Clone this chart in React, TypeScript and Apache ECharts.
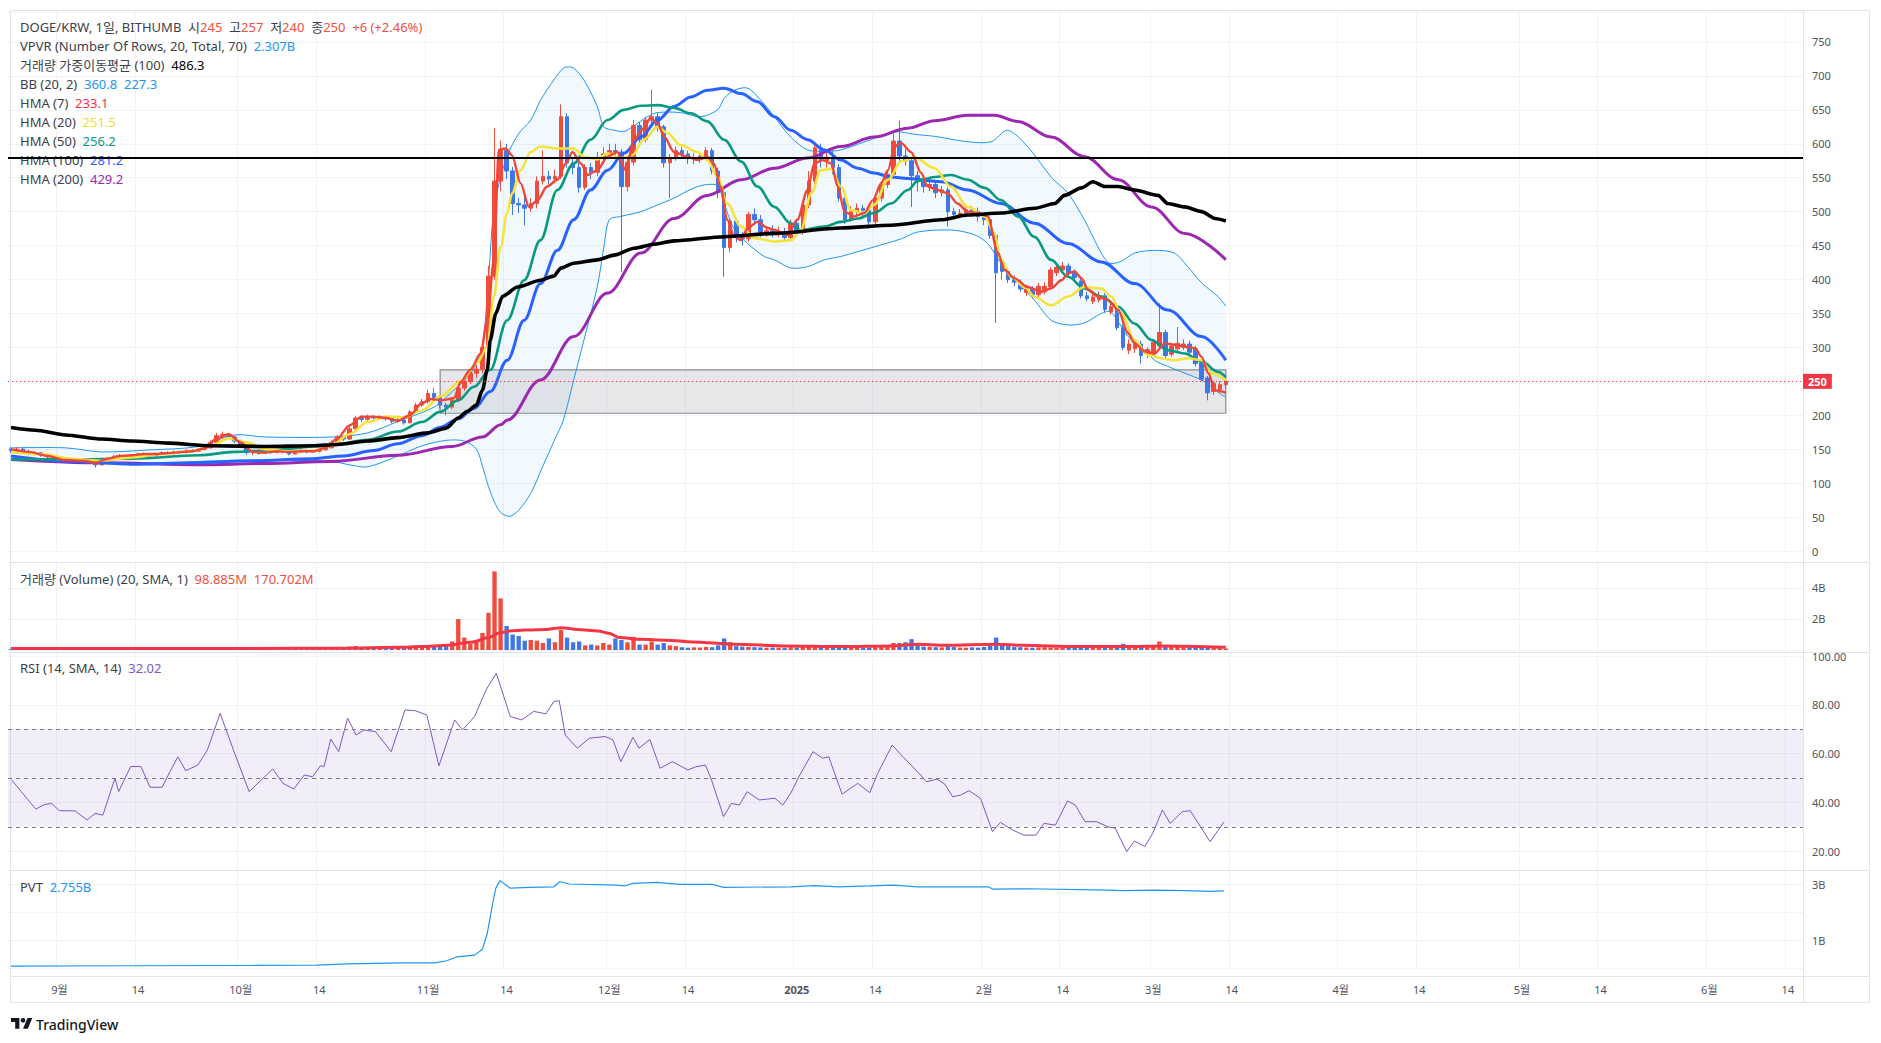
import React, { useEffect, useRef } from 'react';
import * as echarts from 'echarts';

// ---------- categories ----------
const N_DAYS = 297; // 2024-08-24 .. 2025-06-16
const START_UTC = Date.UTC(2024, 7, 24);
const DATES: string[] = Array.from({ length: N_DAYS }, (_, k) =>
  new Date(START_UTC + k * 86400000).toISOString().slice(0, 10)
);

// ---------- daily candles [open, high, low, close] (KRW) ----------
const OHLC: number[][] = [
  [150,153,145,148],[148,153,146,150],[150,152,144,146],[146,149,141,143],[143,147,141,145],
  [145,146,139,141],[141,143,137,139],[139,141,134,136],[136,138,131,134],[134,137,132,135],
  [135,136,130,132],[132,135,130,133],[133,134,129,131],[131,134,129,132],[132,133,123,127],
  [127,135,126,133],[133,138,131,136],[136,142,134,139],[139,143,137,140],[140,142,136,138],
  [138,143,137,141],[141,145,139,143],[143,145,140,142],[142,144,138,140],[140,145,139,143],
  [143,147,141,145],[145,147,142,144],[144,148,142,146],[146,148,143,145],[145,150,144,148],
  [148,150,145,147],[147,152,146,150],[150,155,148,152],[152,163,151,160],[160,174,158,170],
  [170,176,166,172],[172,174,165,168],[168,170,159,162],[162,164,153,155],[155,157,142,145],
  [145,149,141,146],[146,148,142,144],[144,149,143,147],[147,149,143,145],[145,150,144,148],
  [148,150,144,146],[146,148,141,143],[143,148,142,146],[146,150,145,148],[148,150,144,146],
  [146,149,145,147],[147,151,145,149],[149,155,148,152],[152,163,151,160],[160,171,158,168],
  [168,170,162,165],[165,184,164,180],[180,199,178,196],[196,200,190,194],[194,201,192,198],
  [198,200,193,196],[196,200,193,197],[197,199,192,195],[195,197,188,191],[191,196,189,193],
  [193,195,186,189],[189,208,188,205],[205,218,203,215],[215,224,212,220],[220,238,217,232],
  [232,240,222,226],[226,229,210,215],[215,218,200,212],[212,226,209,222],[222,246,220,240],
  [240,255,236,250],[250,268,246,262],[262,274,255,268],[268,310,262,300],[300,420,298,405],
  [405,623,400,545],[545,605,530,590],[590,600,548,560],[560,566,495,512],[512,520,498,510],
  [510,522,480,505],[505,520,500,512],[512,552,505,545],[545,590,540,552],[552,560,540,548],
  [548,562,542,552],[552,658,548,640],[640,645,565,572],[572,580,555,565],[565,572,528,536],
  [536,570,532,565],[565,572,548,558],[558,588,552,580],[580,595,570,585],[585,600,578,590],
  [590,600,580,588],[588,592,411,537],[537,578,530,573],[573,635,568,627],[627,632,600,606],
  [606,640,602,635],[635,680,625,640],[640,645,618,625],[625,628,565,572],[572,585,520,580],
  [580,596,575,590],[590,595,578,585],[585,590,570,578],[578,586,570,579],[578,588,572,582],
  [582,595,576,590],[590,594,555,560],[560,565,520,528],[528,532,404,447],[447,490,440,486],
  [486,490,455,464],[464,470,450,460],[460,500,456,496],[496,505,480,488],[488,495,462,470],
  [470,478,463,472],[472,480,462,468],[468,478,462,470],[470,476,458,462],[462,488,458,483],
  [483,490,465,470],[470,515,466,510],[510,560,505,545],[545,600,540,594],[594,600,565,575],
  [575,590,565,580],[580,590,555,565],[565,570,515,520],[520,525,482,488],[488,508,485,500],
  [500,512,495,505],[505,510,494,502],[502,506,475,485],[485,525,480,520],[520,545,515,540],
  [540,562,535,555],[555,615,550,604],[604,634,575,582],[582,592,568,575],[575,580,507,553],
  [553,560,530,545],[545,552,528,537],[537,548,530,540],[540,546,520,528],[528,538,522,532],
  [532,536,478,500],[500,506,490,496],[496,504,490,498],[498,508,492,503],[503,508,493,500],
  [500,506,485,493],[493,497,480,488],[488,492,460,465],[465,468,336,410],[424,428,400,412],
  [412,415,395,400],[400,406,390,396],[396,400,382,386],[381,392,376,386],[386,390,372,378],
  [378,395,374,390],[382,396,378,390],[389,418,385,414],[410,423,405,418],[414,426,410,420],
  [420,424,405,410],[410,415,398,403],[398,402,372,376],[376,382,368,372],[368,380,364,374],
  [370,382,366,376],[376,380,352,356],[352,366,348,360],[356,360,325,329],[329,334,296,300],
  [296,312,290,305],[298,310,292,304],[305,310,276,288],[290,300,284,297],[290,312,286,308],
  [302,365,298,322],[322,326,284,288],[290,306,286,302],[298,330,294,306],[300,312,296,305],
  [305,310,290,293],[298,302,272,276],[278,282,250,253],[255,258,222,233],[235,250,230,247],
  [238,250,234,245],[245,257,240,250],
];

// ---------- daily volume (millions) ----------
const VOLUME_M: number[] = [
  60,45,55,70,40,50,65,55,80,45, 50,40,60,70,90,75,55,45,60,50,
  55,65,45,40,70,60,50,45,55,65, 50,60,70,120,180,150,110,90,130,160,
  70,60,55,50,60,45,75,50,60,55, 65,80,90,140,200,150,220,260,180,150,
  140,130,120,160,150,140,230,260,240,300, 280,220,350,550,2000,800,400,600,1100,2400,
  5070,3330,1550,1000,900,600,650,600,450,750, 500,1300,800,500,550,300,350,300,450,350,
  750,650,500,850,350,350,550,350,450,300, 250,180,150,170,160,200,180,300,750,500,
  250,220,200,180,170,150,160,150,140,180, 160,200,250,300,220,180,200,220,170,150,
  140,160,150,180,200,230,450,450,500,700, 300,220,200,180,170,250,190,160,150,170,
  150,200,300,800,400,250,200,180,160,150, 170,180,160,150,140,160,170,150,140,130,
  150,160,170,200,400,250,250,220,180,200, 550,300,250,200,180,160,170,230,260,180,
  150,99,
];

// ---------- indicator lines: [day index, value] ----------
const VOL_SMA_B: number[][] = [
  [0,0.09],[20,0.09],[40,0.1],[55,0.12],[64,0.17],[67.8,0.22],[72.1,0.3],[76.4,0.52],[79,0.8],
  [80.7,1.08],[82.5,1.23],[85.1,1.29],[88.5,1.33],[91.1,1.44],[93.7,1.33],[97.2,1.23],[98.9,1.08],
  [100.7,0.8],[104.1,0.69],[108.5,0.63],[112.8,0.52],[119.7,0.37],[128.4,0.26],[137.1,0.22],
  [145.7,0.26],[150.1,0.37],[154.4,0.3],[163.1,0.37],[167.4,0.3],[176.1,0.22],[184.7,0.22],
  [190.8,0.26],[201,0.17],
];

const HMA7: number[][] = [
  [0,150],[3,146],[6,140],[9,134],[12,133],[14,130],[16,136],[18,140],[20,141],[22,143],[24,143],
  [27,145],[30,147],[32,151],[34,166],[36,172],[38,160],[40,146],[42,145],[44,147],[46,146],[48,147],
  [50,147],[52,152],[54,166],[56,185],[58,198],[60,198],[62,196],[64,192],[66,200],[68,218],[69.5,224],
  [71.1,222],[73.3,225],[74.4,249],[76,267],[77.7,291],[78.8,340],[79.9,429],[80.7,591],[81.8,593],
  [82.9,583],[84.3,542],[85.7,507],[87.1,517],[88.7,537],[90.4,547],[91.8,571],[92.9,588],[94.3,571],
  [95.4,554],[97,561],[98.7,581],[100.3,588],[101.7,561],[103.1,606],[104.7,623],[105.8,638],[107,630],
  [108.1,610],[109.7,588],[111.9,581],[113.6,576],[115.2,581],[116.3,571],[117.4,537],[118.5,488],
  [119.7,463],[120.8,458],[121.9,476],[123.5,485],[125.2,476],[126.3,473],[128.5,466],[130.1,488],
  [131.8,532],[132.9,571],[134.3,576],[135.7,571],[136.8,537],[137.9,500],[139.5,493],[141.2,498],
  [142.6,517],[144,542],[145.1,561],[146.2,596],[147.3,601],[148.9,588],[150.6,557],[151.7,537],
  [153.3,532],[155,527],[156.6,512],[158.3,500],[160,498],[161.6,493],[163.3,439],[164.4,414],[166,402],
  [168.2,389],[170.5,382],[172.1,387],[173.8,399],[174.9,409],[176,412],[177.1,402],[178.2,385],
  [179.8,375],[181.5,370],[183.2,355],[184.8,321],[185.9,306],[187.6,294],[189.2,291],[190.9,306],
  [192.5,304],[194.2,301],[195.9,299],[197,286],[198.1,262],[199.2,237],[200.3,235],[201,233],
];

const HMA20: number[][] = [
  [0,146],[5,143],[10,136],[15,133],[20,138],[25,143],[30,147],[33,155],[36,166],[39,160],[42,150],
  [46,147],[50,148],[53,155],[56,172],[59,190],[62,198],[65,197],[68,207],[71.1,228],[74.4,250],
  [77.1,277],[78.8,301],[79.9,375],[81,448],[82.1,498],[82.9,527],[84.3,561],[86,588],[87.6,596],
  [90.4,593],[93.1,593],[94.8,581],[97,577],[98.7,586],[100.9,579],[102.8,583],[104.7,606],[107,625],
  [108.6,616],[110.8,598],[113.6,588],[115.2,576],[116.9,551],[118.5,512],[120.8,478],[123,461],
  [126.3,456],[129.1,458],[130.7,473],[132.4,527],[134,561],[135.7,563],[137.3,537],[139,502],
  [141.2,498],[142.8,510],[145.1,547],[147.3,574],[149.5,580],[152.8,564],[155.5,537],[158.3,507],
  [161.1,493],[162.7,468],[163.8,429],[165.5,404],[167.7,389],[169.3,375],[172.1,362],[174.9,375],
  [177.6,389],[180.4,387],[182,375],[183.7,350],[185.9,311],[188.1,289],[190.3,284],[192.5,281],
  [194.7,284],[197,281],[198.6,262],[201,251.5],
];

const HMA50: number[][] = [
  [0,135],[10,135],[20,136],[31,141],[37,146],[42,148],[53,156],[59,164],[64,176],[68,190],[71,205],
  [74,222],[76.6,242],[79.3,267],[82.1,340],[84.9,399],[87.6,458],[90.4,532],[93.1,571],[95.9,606],
  [98.7,635],[101.4,650],[104.2,656],[107,657],[109.7,653],[112.5,645],[115.2,633],[118,606],
  [120.8,574],[123.5,537],[126.3,507],[129,483],[130.7,473],[134.6,478],[137.3,485],[140.1,490],
  [142.8,498],[145.6,512],[148.4,532],[150,545],[152.8,551],[155.5,554],[158.3,547],[161.1,535],
  [163.8,517],[166.6,493],[169.3,463],[172.1,429],[174.9,404],[177.6,387],[180.4,375],[183.2,360],
  [185.9,335],[188.7,311],[191.4,296],[194.2,291],[197,279],[199.7,264],[201,256.2],
];

const HMA100: number[][] = [
  [0,140],[10,132],[20,128],[30,130],[40,133],[50,136],[55,140],[60,148],[64,158],[68,170],[71,182],
  [74,195],[76.6,210],[79.3,235],[82.1,281],[84.9,340],[87.6,394],[90.4,443],[93.1,488],[95.9,532],
  [98.7,561],[101.4,586],[104.2,610],[107,635],[109.7,655],[112.5,669],[115.2,679],[118,682],
  [120.8,674],[123.5,662],[126.3,640],[129,620],[131.8,606],[134.6,591],[137.3,576],[140.1,564],
  [142.8,557],[145.6,551],[148.4,549],[153.9,544],[158.3,532],[163.8,512],[169.3,483],[174.9,453],
  [180.4,426],[185.9,394],[191.4,355],[197,316],[201,281.2],
];

const HMA200: number[][] = [
  [0,135],[15,130],[31,127],[42,129],[53,132],[64,141],[73,154],[78,168],[81,186],[82.1,193],
  [87.6,252],[93.1,316],[98.7,380],[104.2,439],[109.7,490],[115.2,524],[120.8,547],[126.3,564],
  [131.8,579],[137.3,596],[142.8,610],[148.4,623],[152.8,634],[158.3,642],[162.7,642],[166.6,633],
  [172.1,610],[177.6,581],[183.2,547],[188.7,507],[194.2,468],[201,429.2],
];

const VWMA100: number[][] = [
  [0,182],[4,178],[9,171],[15,165],[20,162],[26,159],[33,155],[42,154],[50,155],[54,157],[59,162],
  [64,167],[69,174],[72,181],[74,196],[75.5,206],[77,215],[78,237],[78.8,267],[79.3,311],[80.2,350],
  [81.3,375],[83.8,389],[87.6,399],[89.8,405],[91,417],[93.1,424],[97,429],[99.8,436],[103.1,446],
  [106.4,452],[109.7,457],[118,463],[126.3,468],[137.3,476],[145.6,480],[153.9,488],[158.3,495],
  [163.8,498],[169.4,505],[172.7,512],[174.3,524],[177.1,535],[179,544],[181,537],[183.2,537],
  [185.9,532],[189.8,524],[191.4,512],[194.2,507],[197,500],[199.2,490],[201,486.3],
];

const BB_UPPER: number[][] = [
  [0,152],[9,152],[15,146],[23,149],[31,154],[37,171],[42,168],[53,168],[59,174],[64,191],[70,212],
  [73,235],[75.5,255],[77,275],[78,300],[79,400],[80,510],[82,580],[84,615],[86,635],[87.6,664],
  [89.8,694],[91.5,712],[93,712],[94.8,694],[97,655],[98.1,625],[99.8,620],[101.4,618],[102.8,625],
  [105.3,640],[107,646],[110.8,646],[114.1,640],[116.9,650],[118,667],[119.7,679],[121.9,682],
  [124.1,664],[126.3,640],[129,610],[131.8,591],[134.6,589],[137.3,591],[142.8,608],[146.2,618],
  [149.5,614],[152.8,611],[158.3,603],[162.2,603],[164.9,620],[168.2,596],[172.1,551],[174.9,527],
  [177.6,488],[180.4,439],[181.8,424],[183.7,427],[185.9,439],[189.2,443],[192.5,439],[194.7,419],
  [197,395],[199.7,375],[201,360.8],
];

const BB_LOWER: number[][] = [
  [0,134],[9,132],[15,130],[23,127],[31,132],[42,134],[53,132],[56,127],[59,124],[64,140],[68,155],
  [72,163],[75,162],[77,150],[78,125],[79,95],[80,72],[81,57],[82.5,51],[84,60],[86,85],[88,125],
  [90,165],[91.4,193],[93.1,252],[94.8,311],[97,389],[98.1,448],[99,488],[100.9,493],[104.2,500],
  [107,510],[109.7,520],[113,535],[115.2,540],[116.9,538],[118,512],[119.7,473],[121.9,453],
  [124.6,434],[126.3,429],[129,417],[131.8,419],[134.6,429],[137.3,434],[142.8,448],[147.3,460],
  [150,470],[155.5,473],[159.4,466],[161.6,453],[163.8,424],[166.6,395],[169.3,370],[172.1,340],
  [174.9,333],[177.6,336],[180.4,350],[182,352],[184.8,316],[187,301],[189.2,281],[191.4,272],
  [194.2,262],[197,252],[198.6,242],[200.3,230],[201,227.3],
];

const RSI14: number[][] = [
  [0.1,49.2],[4.1,37.2],[5.4,39.0],[6.7,39.6],[8.0,36.6],[10.6,36.5],[12.6,32.8],[13.9,35.5],[15.2,34.8],
  [17.2,49.9],[17.8,44.4],[19.8,54.7],[21.5,54.7],[23.0,46.2],[25.0,46.2],[26.3,52.6],[27.6,58.7],
  [28.9,53.0],[30.9,55.3],[32.5,61.5],[34.6,76.5],[36.8,61.5],[39.4,44.4],[41.4,49.2],[43.3,53.7],
  [45.0,47.8],[46.8,45.5],[48.5,51.2],[49.9,50.5],[51.2,55.0],[51.8,54.7],[52.9,65.9],[54.2,60.8],
  [55.7,74.5],[57.1,67.6],[58.4,69.7],[60.3,69.0],[62.9,60.8],[65.2,77.9],[66.9,77.6],[68.8,75.8],
  [70.8,55.0],[73.4,73.8],[74.7,69.7],[76.7,75.2],[78.6,86.1],[80.3,92.9],[82.6,75.2],[84.5,73.8],
  [86.5,77.3],[88.5,76.3],[89.8,81.3],[90.7,81.7],[91.7,67.6],[93.7,62.2],[95.7,66.3],[98.3,67.0],
  [99.6,65.6],[100.9,56.7],[102.9,66.7],[103.9,62.2],[105.7,65.8],[107.4,54.0],[109.4,56.7],
  [112.0,53.3],[113.3,54.6],[114.9,55.3],[115.9,49.2],[117.9,34.2],[119.2,39.6],[120.5,38.9],
  [121.8,44.4],[123.8,41.0],[126.4,41.7],[127.7,38.9],[129.0,43.7],[130.3,50.3],[132.7,60.8],
  [134.3,58.1],[135.3,58.7],[137.5,43.4],[140.1,47.8],[142.1,44.0],[143.4,51.9],[145.8,63.5],
  [147.3,59.4],[149.7,53.3],[151.5,48.5],[153.2,49.5],[154.5,47.5],[155.8,42.3],[157.1,43.0],
  [158.5,44.8],[160.4,41.7],[162.4,28.0],[163.7,31.8],[165.7,28.7],[167.6,26.6],[169.6,26.6],
  [170.9,31.4],[172.8,30.7],[174.8,40.6],[176.1,38.9],[177.7,32.1],[179.6,32.1],[181.4,30.1],
  [182.7,29.4],[184.6,19.8],[185.9,24.2],[187.6,21.9],[188.9,27.3],[190.5,36.9],[191.8,31.4],
  [193.8,36.2],[195.1,36.6],[196.8,30.1],[198.4,23.9],[200.7,32.0],
];

const PVT_B: number[][] = [
  [0,0.07],[20,0.08],[40,0.09],[50.5,0.1],[55.7,0.15],[64.9,0.18],[70.1,0.18],[72.1,0.26],[73.8,0.4],
  [76.7,0.46],[78,0.67],[78.8,1.24],[79.6,2.19],[80.2,2.85],[80.9,3.12],[82.6,2.85],[85.8,2.88],
  [89.8,2.9],[90.8,3.08],[92.4,3.0],[100.2,2.96],[101.5,2.93],[102.9,3.02],[106.8,3.06],[110.7,2.99],
  [116,2.99],[117.9,2.88],[129,2.9],[133,2.94],[136.9,2.9],[142.1,2.93],[146,2.96],[150,2.9],
  [161.7,2.9],[162.4,2.82],[168.3,2.83],[181.4,2.78],[184,2.76],[189.2,2.78],[194.4,2.76],
  [198.4,2.74],[200.7,2.755],
];

const LAST_PRICE = 250;
const HLINE_PRICE = 580;
const ZONE = { from: 71, to: 201, top: 267, bottom: 203 };
const RSI_LEVELS = [70, 50, 30];

// ---------- legend texts ----------
const C_TXT = '#3c3f4a';
const C_RED = '#f0503f';
const C_BB = '#2196f3';
const C_Y = '#f2dc2e';
const C_G = '#089981';
const C_B = '#2962ff';
const C_P = '#9c27b0';
const C_RSI = '#7e57c2';
const NB = '\u00a0';

const LEGEND_MAIN: [string, string][][] = [
  [['DOGE/KRW, 1일, BITHUMB' + NB + NB + '시', C_TXT], ['245', C_RED], [NB + NB + '고', C_TXT], ['257', C_RED], [NB + NB + '저', C_TXT], ['240', C_RED], [NB + NB + '종', C_TXT], ['250', C_RED], [NB + NB + '+6 (+2.46%)', C_RED]],
  [['VPVR (Number Of Rows, 20, Total, 70)' + NB + NB, C_TXT], ['2.307B', C_BB]],
  [['거래량 가중이동평균 (100)' + NB + NB, C_TXT], ['486.3', '#000000']],
  [['BB (20, 2)' + NB + NB, C_TXT], ['360.8' + NB + NB + '227.3', C_BB]],
  [['HMA (7)' + NB + NB, C_TXT], ['233.1', '#f23645']],
  [['HMA (20)' + NB + NB, C_TXT], ['251.5', C_Y]],
  [['HMA (50)' + NB + NB, C_TXT], ['256.2', C_G]],
  [['HMA (100)' + NB + NB, C_TXT], ['281.2', C_B]],
  [['HMA (200)' + NB + NB, C_TXT], ['429.2', C_P]],
];
const LEGEND_VOL: [string, string][] = [['거래량 (Volume) (20, SMA, 1)' + NB + NB, C_TXT], ['98.885M' + NB + NB + '170.702M', C_RED]];
const LEGEND_RSI: [string, string][] = [['RSI (14, SMA, 14)' + NB + NB, C_TXT], ['32.02', C_RSI]];
const LEGEND_PVT: [string, string][] = [['PVT' + NB + NB, C_TXT], ['2.755B', C_BB]];

// ---------- styling ----------
const FONT = "'Noto Sans', 'Noto Sans CJK KR', sans-serif";
const UP = '#ee4d3d';
const DN = '#3f78e6';
const GRID_C = '#f2f3f6';
const SEP_C = '#e0e3eb';
const AXIS_TXT = '#50535e';

const TV_LOGO_PATH = 'M14 22H7V11H0V4h14v18zM28 22h-8l7.5-18h8L28 22zM24 8a4 4 0 1 1-8 0a4 4 0 1 1 8 0z';
echarts.graphic.registerShape('tvlogo', echarts.graphic.extendPath(TV_LOGO_PATH, {}));

const dayOf = (s: string) => Number(s.slice(8, 10));
const monthOf = (s: string) => Number(s.slice(5, 7));
const isTickDay = (s: string) => dayOf(s) === 1 || dayOf(s) === 14;

function legendText(x: number, y: number, segs: [string, string][]) {
  const rich: any = {};
  segs.forEach((s, k) => { rich['s' + k] = { fill: s[1], fontSize: 13, fontFamily: FONT }; });
  return {
    type: 'text', x, y, z: 1, silent: true,
    style: {
      text: segs.map((s, k) => `{s${k}|${s[0]}}`).join(''),
      rich, fontSize: 13, fontFamily: FONT, fill: C_TXT, verticalAlign: 'middle', align: 'left',
    },
  };
}

function buildOption(): any {
  const L = 8, R = 78;
  const grid = [
    { left: L, right: R, top: 12, height: 539 },
    { left: L, right: R, top: 562, height: 88 },
    { left: L, right: R, top: 652, height: 248 },
    { left: L, right: R, top: 870, height: 98 },
    { left: L, right: R, top: 970, height: 6 },
  ];
  const catAxis = (g: number) => ({
    type: 'category', gridIndex: g, data: DATES, boundaryGap: true,
    axisLine: { show: false }, axisTick: { show: false },
    axisLabel: g === 4 ? {
      show: true, interval: (_i: number, v: string) => isTickDay(v), margin: 8,
      fontSize: 11, color: AXIS_TXT, fontFamily: FONT,
      formatter: (v: string) => dayOf(v) === 14 ? '14' : (monthOf(v) === 1 ? '{b|' + v.slice(0, 4) + '}' : monthOf(v) + '월'),
      rich: { b: { fontWeight: 'bold', fontSize: 11, color: AXIS_TXT } },
    } : { show: false },
    splitLine: { show: g < 4, interval: (_i: number, v: string) => isTickDay(v), lineStyle: { color: GRID_C, width: 1 } },
  });
  const valX = (g: number) => ({ type: 'value', gridIndex: g, min: -0.5, max: N_DAYS - 0.5, show: false });
  const yBase = { position: 'right', axisLine: { show: false }, axisTick: { show: false }, splitLine: { lineStyle: { color: GRID_C } } };
  const lab = (f: (v: number) => string) => ({ margin: 9, fontSize: 11, color: AXIS_TXT, fontFamily: FONT, formatter: f });

  const xAxis = [catAxis(0), catAxis(1), catAxis(2), catAxis(3), catAxis(4), valX(0), valX(1), valX(2), valX(3)];
  const yAxis = [
    { ...yBase, type: 'value', gridIndex: 0, min: 0, max: 794.2, interval: 50, axisLabel: lab(v => (v % 50 === 0 && v <= 750 && v !== LAST_PRICE) ? String(v) : '') },
    { ...yBase, type: 'value', gridIndex: 1, min: 0, max: 5.677, interval: 2, axisLabel: lab(v => (v === 2 || v === 4) ? v + 'B' : '') },
    { ...yBase, type: 'value', gridIndex: 2, min: 0, max: 101.64, interval: 20, axisLabel: lab(v => (v > 0 && v <= 100 && v % 20 === 0) ? v.toFixed(2) : ''), splitLine: { showMinLine: false, lineStyle: { color: GRID_C } } },
    { ...yBase, type: 'value', gridIndex: 3, min: 0, max: 3.5, interval: 1, axisLabel: lab(v => (v === 1 || v === 3) ? v + 'B' : '') },
    { type: 'value', gridIndex: 4, show: false },
  ];

  const line = (data: number[][], color: string, width: number, z: number, smooth: number | boolean = 0.35, xi = 5, yi = 0) => ({
    type: 'line', xAxisIndex: xi, yAxisIndex: yi, data, showSymbol: false, symbol: 'none', smooth, smoothMonotone: 'x',
    lineStyle: { color, width }, z, silent: true,
  });

  const series: any[] = [
    {
      type: 'custom', xAxisIndex: 5, yAxisIndex: 0, z: 2, silent: true, data: [[0, 0]],
      encode: { x: 0, y: 1 },
      renderItem: (params: any, api: any) => {
        if (params.dataIndex !== 0) return null;
        const up = BB_UPPER.map(p => api.coord(p));
        const lo = BB_LOWER.map(p => api.coord(p));
        const a = api.coord([ZONE.from, ZONE.top]);
        const b = api.coord([ZONE.to, ZONE.bottom]);
        return {
          type: 'group', children: [
            { type: 'polygon', shape: { points: up.concat(lo.slice().reverse()), smooth: 0.3 }, style: { fill: 'rgba(33,150,243,0.06)', stroke: 'none' } },
            { type: 'rect', shape: { x: a[0], y: a[1], width: b[0] - a[0], height: b[1] - a[1] }, style: { fill: 'rgba(120,123,134,0.18)', stroke: '#8a8c93', lineWidth: 1.2 } },
            { type: 'polyline', shape: { points: up, smooth: 0.3 }, style: { stroke: C_BB, lineWidth: 1, fill: 'none' } },
            { type: 'polyline', shape: { points: lo, smooth: 0.3 }, style: { stroke: C_BB, lineWidth: 1, fill: 'none' } },
          ],
        };
      },
    },
    {
      type: 'candlestick', xAxisIndex: 0, yAxisIndex: 0, z: 3, silent: true, barWidth: 4,
      data: OHLC.map(([o, h, l, c]) => [o, c, l, h]),
      itemStyle: { color: UP, color0: DN, borderColor: UP, borderColor0: DN, borderWidth: 1 },
    },
    line(HMA200, C_P, 3, 4),
    line(HMA100, C_B, 3, 4),
    line(HMA50, C_G, 2.6, 4),
    line(HMA20, '#f5e33b', 2.6, 4),
    line(HMA7, '#f0463a', 2.4, 4, 0.3),
    {
      ...line(VWMA100, '#000000', 3.6, 5, 0.25),
      markLine: {
        silent: true, symbol: ['none', 'none'], animation: false, z: 6,
        data: [
          { yAxis: HLINE_PRICE, lineStyle: { color: '#000', width: 2, type: 'solid' }, label: { show: false } },
          {
            yAxis: LAST_PRICE, lineStyle: { color: '#f23645', width: 1, type: [1, 3] },
            label: { show: true, position: 'end', formatter: String(LAST_PRICE), distance: 0, backgroundColor: '#f23645', color: '#fff', fontSize: 11, fontWeight: 'bold', fontFamily: FONT, padding: [2, 5, 2, 5] },
          },
        ],
      },
    },
    {
      type: 'bar', xAxisIndex: 1, yAxisIndex: 1, barWidth: '72%', silent: true, z: 3,
      data: VOLUME_M.map((v, k) => ({ value: v / 1000, itemStyle: { color: OHLC[k][3] >= OHLC[k][0] ? UP : DN } })),
    },
    line(VOL_SMA_B, '#f23645', 3, 4, 0.3, 6, 1),
    {
      ...line(RSI14, C_RSI, 1, 4, false, 7, 2),
      markArea: { silent: true, itemStyle: { color: 'rgba(126,87,194,0.1)' }, data: [[{ yAxis: 30 }, { yAxis: 70 }]] },
      markLine: {
        silent: true, symbol: ['none', 'none'], label: { show: false },
        lineStyle: { color: '#787b86', width: 1, type: [4, 4] },
        data: RSI_LEVELS.map(v => ({ yAxis: v })),
      },
    },
    line(PVT_B, '#2196f3', 1.2, 4, false, 8, 3),
  ];

  const graphic: any[] = [
    { type: 'rect', silent: true, z: 1, shape: { x: 10.5, y: 10.5, width: 1859, height: 992 }, style: { fill: 'none', stroke: SEP_C, lineWidth: 1 } },
    ...[562.5, 652.5, 870.5, 976.5].map(y => ({ type: 'line', silent: true, z: 1, shape: { x1: 10, y1: y, x2: 1870, y2: y }, style: { stroke: SEP_C, lineWidth: 1 } })),
    { type: 'line', silent: true, z: 1, shape: { x1: 1803.5, y1: 10, x2: 1803.5, y2: 1003 }, style: { stroke: SEP_C, lineWidth: 1 } },
    ...LEGEND_MAIN.map((segs, k) => legendText(20, 26.5 + k * 19.05, segs)),
    legendText(20, 578.5, LEGEND_VOL),
    legendText(20, 667.5, LEGEND_RSI),
    legendText(20, 887, LEGEND_PVT),
    { type: 'tvlogo', silent: true, x: 11, y: 1015.5, scaleX: 0.6, scaleY: 0.6, style: { fill: '#131722' } },
    { type: 'text', silent: true, x: 36, y: 1024, style: { text: 'TradingView', fontSize: 14, fontFamily: FONT, fill: '#131722', verticalAlign: 'middle', fontWeight: 500 } },
  ];

  return {
    animation: false,
    backgroundColor: '#ffffff',
    textStyle: { fontFamily: FONT },
    grid, xAxis, yAxis, series, graphic,
  };
}

export default function App() {
  const ref = useRef<HTMLDivElement>(null);
  useEffect(() => {
    if (!ref.current) return;
    const chart = echarts.init(ref.current, undefined, { renderer: 'svg' });
    chart.setOption(buildOption());
    return () => chart.dispose();
  }, []);
  return <div ref={ref} style={{ position: 'absolute', left: 0, top: 0, width: 1881, height: 1043, background: '#fff' }} />;
}
